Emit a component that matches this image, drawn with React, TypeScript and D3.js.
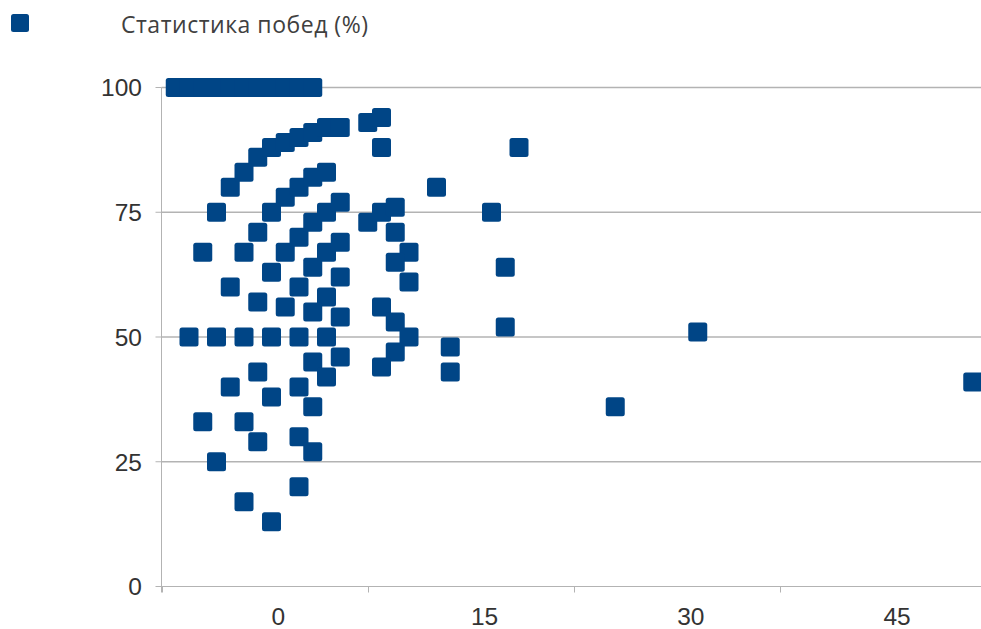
import React, { useRef, useEffect } from "react";
import * as d3 from "d3";

const seriesName = "Статистика побед (%)";

// x position of each point and its win rate
const xPos = [
  // top row at 100
  -7.5, -6.5, -5.5, -4.5, -3.5, -2.5, -1.5, -0.5, 0.5, 1.5, 2.5,
  // upper arc
  -4.5, -3.5, -2.5, -1.5, -0.5, 0.5, 1.5, 2.5, 3.5, 4.5, 6.5, 7.5, 7.5,
  // second arc
  -5.5, -2.5, -1.5, -0.5, 0.5, 1.5, 2.5, 3.5,
  0.5, 1.5, 2.5, 3.5, 4.5,
  -0.5, 2.5, 3.5, 4.5,
  -3.5, 1.5, 4.5,
  -1.5, 0.5, 3.5, 2.5, 4.5,
  // row at 50
  -6.5, -4.5, -2.5, -0.5, 1.5, 3.5,
  // below 50
  -1.5, -3.5, -0.5, 4.5, 2.5, 3.5, 1.5, 2.5,
  -5.5, -2.5, -1.5, 1.5, 2.5, -4.5, 1.5, -2.5, -0.5,
  // group around 8
  6.5, 7.5, 8.5, 8.5, 9.5, 8.5, 9.5, 7.5, 8.5, 9.5, 8.5, 7.5,
  // far points
  11.5, 15.5, 17.5, 16.5, 16.5, 12.5, 12.5, 24.5, 30.5, 50.5,
];

const winPct = [
  100, 100, 100, 100, 100, 100, 100, 100, 100, 100, 100,
  75, 80, 83, 86, 88, 89, 90, 91, 92, 92, 93, 94, 88,
  67, 67, 71, 75, 78, 80, 82, 83,
  67, 70, 73, 75, 77,
  63, 64, 67, 69,
  60, 60, 62,
  57, 56, 58, 55, 54,
  50, 50, 50, 50, 50, 50,
  43, 40, 38, 46, 45, 42, 40, 36,
  33, 33, 29, 30, 27, 25, 20, 17, 13,
  73, 75, 76, 71, 67, 65, 61, 56, 53, 50, 47, 44,
  80, 75, 88, 64, 52, 48, 43, 36, 51, 41,
];

const xTickLabels = [0, 15, 30, 45];
const xTickMarks = [-8.5, 6.5, 21.5, 36.5, 51.5];
const yTicks = [0, 25, 50, 75, 100];

const W = 981;
const H = 629;

const App = () => {
  const ref = useRef<SVGSVGElement>(null);

  useEffect(() => {
    const svg = d3.select(ref.current);
    svg.selectAll("*").remove();

    const x = d3.scaleLinear().domain([-8.5, 51.5]).range([161.5, 986.5]);
    const y = d3.scaleLinear().domain([0, 100]).range([586.5, 87.5]);
    const blue = "#004586";
    const axisColor = "#b3b3b3";
    const size = 19;

    // grid lines
    svg
      .append("g")
      .selectAll("line")
      .data(yTicks.filter((d) => d > 0))
      .enter()
      .append("line")
      .attr("x1", x(-8.5))
      .attr("x2", x(51.5))
      .attr("y1", (d) => y(d))
      .attr("y2", (d) => y(d))
      .attr("stroke", axisColor)
      .attr("stroke-width", 1.5);

    // y axis
    const yAxis = svg.append("g");
    yAxis
      .append("line")
      .attr("x1", x(-8.5))
      .attr("x2", x(-8.5))
      .attr("y1", y(100))
      .attr("y2", y(0) + 6)
      .attr("stroke", axisColor);
    yAxis
      .selectAll("line.tick")
      .data(yTicks)
      .enter()
      .append("line")
      .attr("class", "tick")
      .attr("x1", x(-8.5) - 6)
      .attr("x2", x(-8.5))
      .attr("y1", (d) => y(d))
      .attr("y2", (d) => y(d))
      .attr("stroke", axisColor);
    yAxis
      .selectAll("text")
      .data(yTicks)
      .enter()
      .append("text")
      .attr("x", 142)
      .attr("y", (d) => y(d))
      .attr("dy", "0.36em")
      .attr("text-anchor", "end")
      .attr("font-family", "'Liberation Sans', Arial, sans-serif")
      .attr("font-size", 24.5)
      .attr("fill", "#333")
      .text((d) => d);

    // x axis
    const xAxis = svg.append("g");
    xAxis
      .append("line")
      .attr("x1", x(-8.5))
      .attr("x2", x(51.5))
      .attr("y1", y(0))
      .attr("y2", y(0))
      .attr("stroke", axisColor);
    xAxis
      .selectAll("line.tick")
      .data(xTickMarks)
      .enter()
      .append("line")
      .attr("class", "tick")
      .attr("x1", (d) => Math.round(x(d)) + 0.5)
      .attr("x2", (d) => Math.round(x(d)) + 0.5)
      .attr("y1", y(0))
      .attr("y2", y(0) + 6)
      .attr("stroke", axisColor);
    xAxis
      .selectAll("text")
      .data(xTickLabels)
      .enter()
      .append("text")
      .attr("x", (d) => x(d))
      .attr("y", 625)
      .attr("text-anchor", "middle")
      .attr("font-family", "'Liberation Sans', Arial, sans-serif")
      .attr("font-size", 24.5)
      .attr("fill", "#333")
      .text((d) => d);

    // points
    svg
      .append("g")
      .selectAll("rect")
      .data(xPos.map((d, i) => ({ x: d, y: winPct[i] })))
      .enter()
      .append("rect")
      .attr("x", (d) => x(d.x) - size / 2)
      .attr("y", (d) => y(d.y) - size / 2)
      .attr("width", size)
      .attr("height", size)
      .attr("rx", 2.5)
      .attr("fill", blue);

    // legend
    svg
      .append("rect")
      .attr("x", 11)
      .attr("y", 14)
      .attr("width", 18)
      .attr("height", 18)
      .attr("rx", 2.5)
      .attr("fill", blue);
    svg
      .append("text")
      .attr("x", 121)
      .attr("y", 33)
      .attr("font-family", "'Open Sans', 'Noto Sans', sans-serif")
      .attr("font-size", 23)
      .attr("textLength", 247)
      .attr("lengthAdjust", "spacing")
      .attr("fill", "#404040")
      .text(seriesName);
  }, []);

  return (
    <svg
      ref={ref}
      width={W}
      height={H}
      style={{ position: "absolute", left: 0, top: 0, background: "#fff" }}
    />
  );
};

export default App;
